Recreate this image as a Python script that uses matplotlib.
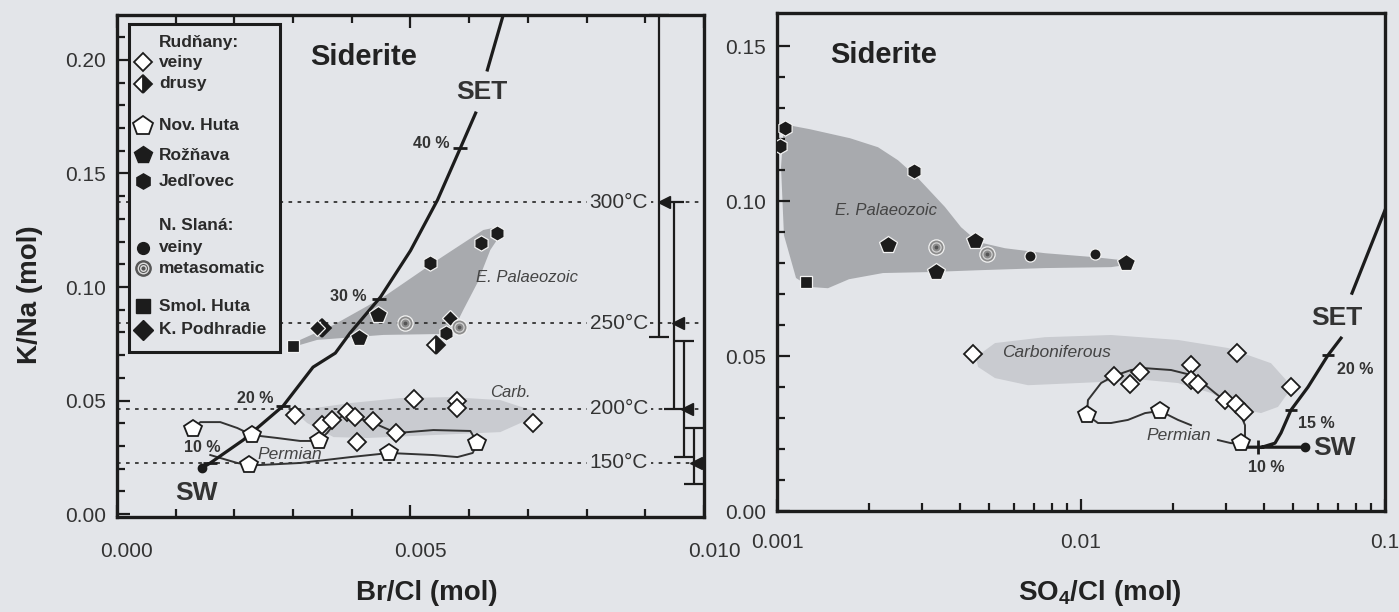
import numpy as np
import matplotlib
matplotlib.use("Agg")
import matplotlib.pyplot as plt
from matplotlib.patches import Rectangle
from matplotlib.transforms import ScaledTranslation
from matplotlib.ticker import LogLocator, NullFormatter

plt.rcParams['font.family'] = ['Liberation Sans', 'DejaVu Sans']
plt.rcParams['mathtext.fontset'] = 'custom'
plt.rcParams['mathtext.rm'] = 'Liberation Sans'
plt.rcParams['mathtext.bf'] = 'Liberation Sans:bold'

BG = '#e3e5e9'
INK = '#1c1c1c'
DARK_FILL = '#a8aaae'
LIGHT_FILL = '#c9cbd0'
nan = np.nan

# ---------------- left panel: Br/Cl vs K/Na ----------------
# Rudnany veiny (open diamonds)
brcl_rud_veiny = [0.00304, 0.00350, 0.00367, 0.00392, 0.00406, 0.00437, 0.00409, 0.00476,
                  0.00506, 0.00579, 0.00580, 0.00708]
kna_rud_veiny = [0.0436, 0.0392, 0.0414, 0.0449, 0.0427, 0.0410, 0.0317, 0.0357,
                 0.0505, 0.0500, 0.0469, 0.0403]
# Rudnany drusy (half filled diamonds)
brcl_rud_drusy = [0.00350, 0.00543]
kna_rud_drusy = [0.0819, 0.0744]
# Nova Huta (open pentagons)
brcl_novhuta = [0.00130, 0.00230, 0.00345, 0.00614, 0.00464, 0.00225]
kna_novhuta = [0.0374, 0.0348, 0.0322, 0.0313, 0.0269, 0.0216]
# Roznava (filled pentagons)
brcl_roznava = [0.00444, 0.00413]
kna_roznava = [0.0877, 0.0775]
# Jedlovec (hexagons)
brcl_jedlovec = [0.00648, 0.00621, 0.00534, 0.00560]
kna_jedlovec = [0.1238, 0.1194, 0.1106, 0.0797]
# N. Slana metasomatic
brcl_meta = [0.00490, 0.00582]
kna_meta = [0.0841, 0.0824]
# Smol. Huta
brcl_smol = [0.00300]
kna_smol = [0.0740]
# K. Podhradie
brcl_kpod = [0.00341, 0.00568]
kna_kpod = [0.0819, 0.0863]

# seawater evaporation trajectory
set_brcl = [0.00145, 0.00159, 0.00215, 0.00283, 0.00334, 0.00372, 0.00397, 0.00449,
            0.00500, 0.00546, 0.00585, 0.00611, nan, 0.00631, 0.00657]
set_kna = [0.0203, 0.0225, 0.0326, 0.0476, 0.0647, 0.0709, 0.0797, 0.0956,
           0.1160, 0.1383, 0.1612, 0.1766, nan, 0.1956, 0.2189]
set_tick_brcl = [0.00159, 0.00283, 0.00446, 0.00585]
set_tick_kna = [0.0225, 0.0476, 0.0947, 0.1612]
set_tick_text = ['10 %', '20 %', '30 %', '40 %']
set_text_brcl = [0.00145, 0.00235, 0.00394, 0.00535]
set_text_kna = [0.0291, 0.0511, 0.0956, 0.1630]

# Permian trend (left)
perm_brcl = [0.00130, 0.00142, 0.00176, 0.00205, 0.00230, 0.00273, 0.00312, 0.00343,
             0.00358, 0.00375, 0.00392, 0.00409, 0.00437, 0.00476, 0.00539, 0.00602,
             0.00614, 0.00606, 0.00580, 0.00539, 0.00464, 0.00398, 0.00312, 0.00244,
             0.00225, 0.00205, 0.00176, 0.00159]
perm_kna = [0.0374, 0.0405, 0.0405, 0.0379, 0.0348, 0.0335, 0.0322, 0.0322,
            0.0357, 0.0414, 0.0449, 0.0423, 0.0401, 0.0357, 0.0370, 0.0366,
            0.0313, 0.0269, 0.0251, 0.0260, 0.0269, 0.0251, 0.0225, 0.0216,
            0.0216, 0.0225, 0.0247, 0.0260]

# field outlines (left)
epal_brcl = [0.00300, 0.00369, 0.00454, 0.00546, 0.00624, 0.00648, 0.00653, 0.00636,
             0.00614, 0.00590, 0.00573, 0.00551, 0.00454, 0.00341, 0.00300]
epal_kna = [0.0753, 0.0833, 0.0956, 0.1119, 0.1251, 0.1264, 0.1229, 0.1163,
            0.1018, 0.0899, 0.0811, 0.0793, 0.0789, 0.0767, 0.0736]
carb_brcl = [0.00312, 0.00398, 0.00483, 0.00568, 0.00653, 0.00705, 0.00710, 0.00653,
             0.00539, 0.00426, 0.00369, 0.00324, 0.00309]
carb_kna = [0.0458, 0.0489, 0.0511, 0.0515, 0.0502, 0.0458, 0.0427, 0.0361,
            0.0348, 0.0335, 0.0339, 0.0401, 0.0436]

# homogenisation temperatures
temp_kna = [0.1374, 0.0841, 0.0463, 0.0225]
temp_text = ['300°C', '250°C', '200°C', '150°C']
range_brcl = [0.00923, 0.00949, 0.00966, 0.00983]
range_lo = [0.0780, 0.0463, 0.0251, 0.0132]
range_hi = [0.2198, 0.1374, 0.0762, 0.0379]
arrow_brcl = [0.00932, 0.00955, 0.00971, 0.00986]

# ---------------- right panel: SO4/Cl vs K/Na ----------------
so4_rud_veiny = [0.00441, 0.01284, 0.01449, 0.01564, 0.02301, 0.02301, 0.02426, 0.02976,
                 0.03235, 0.03437, 0.03260, 0.04907]
kna2_rud_veiny = [0.0506, 0.0436, 0.0410, 0.0448, 0.0471, 0.0423, 0.0410, 0.0358,
                  0.0345, 0.0319, 0.0510, 0.0400]
so4_novhuta = [0.01046, 0.01819, 0.03360]
kna2_novhuta = [0.0310, 0.0323, 0.0219]
so4_roznava = [0.002318, 0.003334, 0.004480, 0.01406]
kna2_roznava = [0.0858, 0.0771, 0.0871, 0.0800]
so4_jedlovec = [0.001063, 0.001023, 0.002823]
kna2_jedlovec = [0.1236, 0.1178, 0.1097]
so4_slana = [0.006796, 0.01112]
kna2_slana = [0.0823, 0.0829]
so4_meta = [0.003334, 0.004907]
kna2_meta = [0.0852, 0.0829]
so4_smol = [0.001245]
kna2_smol = [0.0739]

perm2_so4 = [0.02301, 0.02085, 0.01819, 0.01624, 0.01427, 0.01255, 0.01137, 0.01046,
             0.01054, 0.01164, 0.01284, 0.01460, 0.01624, 0.01978, 0.02301, 0.02520,
             0.02760, 0.03045, 0.03334, 0.03463, 0.03463, 0.03360, 0.03114, 0.02822]
perm2_kna = [0.0277, 0.0294, 0.0323, 0.0316, 0.0294, 0.0284, 0.0284, 0.0310,
             0.0358, 0.0413, 0.0436, 0.0455, 0.0461, 0.0455, 0.0439, 0.0413,
             0.0381, 0.0348, 0.0316, 0.0277, 0.0239, 0.0219, 0.0219, 0.0229]

epal2_so4 = [0.001054, 0.001284, 0.001739, 0.002149, 0.002500, 0.002910, 0.003569, 0.004030,
             0.004584, 0.005623, 0.007612, 0.01112, 0.01354, 0.01483, 0.01255, 0.007612,
             0.004584, 0.003139, 0.002233, 0.001725, 0.001471, 0.001284, 0.001155, 0.001054,
             0.001031]
epal2_kna = [0.1248, 0.1232, 0.1203, 0.1174, 0.1132, 0.1074, 0.0981, 0.0916,
             0.0868, 0.0848, 0.0832, 0.0819, 0.0810, 0.0797, 0.0787, 0.0784,
             0.0777, 0.0771, 0.0768, 0.0748, 0.0719, 0.0723, 0.0752, 0.0890,
             0.1110]
carb2_so4 = [0.004513, 0.005213, 0.007612, 0.01255, 0.02085, 0.03045, 0.04217, 0.04724,
             0.04796, 0.04446, 0.03909, 0.03463, 0.02677, 0.02085, 0.01624, 0.009775,
             0.006694, 0.005213, 0.004584]
carb2_kna = [0.0497, 0.0542, 0.0561, 0.0568, 0.0552, 0.0526, 0.0477, 0.0423,
             0.0381, 0.0336, 0.0316, 0.0326, 0.0381, 0.0413, 0.0423, 0.0413,
             0.0406, 0.0429, 0.0465]

set2_so4 = [0.05456, 0.03437, nan, 0.03939, 0.04346, 0.04548, 0.04907, 0.05580,
            0.06494, 0.07166, nan, 0.07787, 0.1000]
set2_kna = [0.0206, 0.0206, nan, 0.0206, 0.0219, 0.0252, 0.0326, 0.0400,
            0.0503, 0.0558, nan, 0.0703, 0.0971]
set2_tick_so4 = [0.0382, 0.0491, 0.0649]
set2_tick_kna = [0.0206, 0.0326, 0.0503]
set2_text_so4 = [0.0407, 0.0596, 0.0796]
set2_text_kna = [0.0139, 0.0284, 0.0458]

# ---------------- figure ----------------
fig = plt.figure(figsize=(13.99, 6.12), dpi=100, facecolor=BG)
axL = fig.add_axes([0.0836, 0.1552, 0.4196, 0.8203])
axR = fig.add_axes([0.5554, 0.1650, 0.4346, 0.8137])
axR.set_xscale('log')


def style_axes(ax, top):
    ax.set_facecolor(BG)
    for s in ax.spines.values():
        s.set_linewidth(2.4)
        s.set_color(INK)
    ax.tick_params(which='both', direction='in', color=INK, width=1.6, labelsize=15,
                   labelcolor='#333333', top=top, right=False)
    ax.tick_params(which='major', length=9)
    ax.tick_params(which='minor', length=6)
    ax.tick_params(axis='y', pad=8)


open_mk = dict(linestyle='none', mfc='white', mec=INK, mew=1.3, zorder=5)
solid_mk = dict(linestyle='none', mfc=INK, mec='#f2f2f2', mew=0.9, zorder=5)


def draw_meta(ax, x, y, size=11):
    ax.plot(x, y, 'o', ms=size, mfc='#8c8c8c', mec='#f2f2f2', mew=0.9, zorder=5)
    ax.plot(x, y, 'o', ms=size * 0.6, mfc='none', mec='#d4d4d4', mew=0.9, zorder=6)
    ax.plot(x, y, 'o', ms=size * 0.25, mfc='#555555', mec='none', zorder=6)


# ---- left ----
ax = axL
ax.set_xlim(0, 0.010)
ax.set_ylim(-0.0013, 0.2198)
ax.set_xticks([0.0, 0.005, 0.010])
ax.set_xticks(np.arange(0.001, 0.010, 0.001), minor=True)
ax.set_xticklabels(['0.000', '0.005', '0.010'])
ax.set_yticks([0.0, 0.05, 0.10, 0.15, 0.20])
ax.set_yticks(np.arange(0.01, 0.22, 0.01), minor=True)
ax.set_yticklabels(['0.00', '0.05', '0.10', '0.15', '0.20'])
style_axes(ax, True)
ax.tick_params(axis='x', pad=18)
for lab in ax.get_xticklabels():
    lab.set_transform(lab.get_transform() + ScaledTranslation(0.10, 0, fig.dpi_scale_trans))

ax.fill(epal_brcl, epal_kna, color=DARK_FILL, lw=0, zorder=1)
ax.fill(carb_brcl, carb_kna, color=LIGHT_FILL, lw=0, zorder=1)

for yk, t in zip(temp_kna, temp_text):
    ax.plot([0, 0.010], [yk, yk], color='#333333', lw=1.3, ls=(0, (2, 3)), zorder=2)
    ax.text(0.00855, yk, t, ha='center', va='center', fontsize=15, color='#333333', zorder=3,
            bbox=dict(boxstyle='square,pad=0.12', fc=BG, ec='none'))
ax.errorbar(range_brcl, [(a + b) / 2 for a, b in zip(range_lo, range_hi)],
            yerr=[(b - a) / 2 for a, b in zip(range_lo, range_hi)], fmt='none',
            ecolor=INK, elinewidth=1.6, capsize=7, capthick=1.6, zorder=4, clip_on=False)
ax.plot(arrow_brcl, temp_kna, '<', ms=9, color=INK, linestyle='none', zorder=4)

ax.plot(perm_brcl, perm_kna, color='#333333', lw=1.4, zorder=3)
ax.plot(set_brcl, set_kna, color=INK, lw=2.3, zorder=3, clip_on=False)
ax.plot(set_tick_brcl, set_tick_kna, '_', ms=10, mew=2, color=INK, zorder=3)
ax.plot(set_brcl[:1], set_kna[:1], 'o', ms=6, color=INK, zorder=4)
for x, y, t in zip(set_text_brcl, set_text_kna, set_tick_text):
    ax.text(x, y, t, ha='center', va='center', fontsize=11.5, fontweight='bold', color='#333333', zorder=6)

ax.plot(brcl_rud_veiny, kna_rud_veiny, 'D', ms=9, **open_mk)
ax.plot(brcl_novhuta, kna_novhuta, 'p', ms=13, **open_mk)
ax.plot(brcl_rud_drusy, kna_rud_drusy, 'D', ms=9, fillstyle='right', mfc=INK,
        markerfacecoloralt='white', mec=INK, mew=1.3, linestyle='none', zorder=5)
ax.plot(brcl_kpod, kna_kpod, 'D', ms=8, **solid_mk)
ax.plot(brcl_roznava, kna_roznava, 'p', ms=13, **solid_mk)
ax.plot(brcl_jedlovec, kna_jedlovec, 'h', ms=11, **solid_mk)
ax.plot(brcl_smol, kna_smol, 's', ms=9, **solid_mk)
draw_meta(ax, brcl_meta, kna_meta)

ax.text(0.00329, 0.2013, 'Siderite', fontsize=21, fontweight='bold', color='#222222',
        ha='left', va='center')
ax.text(0.00621, 0.1859, 'SET', fontsize=19, fontweight='bold', color='#333333', ha='center', va='center')
ax.text(0.00136, 0.0093, 'SW', fontsize=19, fontweight='bold', color='#333333', ha='center', va='center')
ax.text(0.00698, 0.1044, 'E. Palaeozoic', fontsize=12, style='italic', color='#444444', ha='center', va='center')
ax.text(0.00670, 0.0537, 'Carb.', fontsize=12, style='italic', color='#444444', ha='center', va='center')
ax.text(0.00295, 0.0264, 'Permian', fontsize=12.5, style='italic', color='#444444', ha='center', va='center')

# legend box
ax.add_patch(Rectangle((0.0204, 0.3287), 0.2573, 0.6533, transform=ax.transAxes,
                       fc=BG, ec=INK, lw=2.2, zorder=7))
legend_rows = [
    (0.946, 'Rudňany:', None),
    (0.906, 'veiny', dict(marker='D', ms=9, mfc='white', mec=INK, mew=1.3)),
    (0.863, 'drusy', dict(marker='D', ms=9, fillstyle='right', mfc=INK, markerfacecoloralt='white', mec=INK, mew=1.3)),
    (0.779, 'Nov. Huta', dict(marker='p', ms=15, mfc='white', mec=INK, mew=1.3)),
    (0.721, 'Rožňava', dict(marker='p', ms=13, mfc=INK, mec=INK)),
    (0.669, 'Jedľovec', dict(marker='h', ms=11, mfc=INK, mec=INK)),
    (0.580, 'N. Slaná:', None),
    (0.536, 'veiny', dict(marker='o', ms=8.5, mfc=INK, mec=INK)),
    (0.496, 'metasomatic', 'meta'),
    (0.420, 'Smol. Huta', dict(marker='s', ms=10, mfc=INK, mec=INK)),
    (0.373, 'K. Podhradie', dict(marker='D', ms=10, mfc=INK, mec=INK)),
]
for yy, label, mk in legend_rows:
    ax.text(0.0716, yy, label, transform=ax.transAxes, fontsize=12.5, fontweight='bold',
            color='#2a2a2a', ha='left', va='center', zorder=8)
    if mk == 'meta':
        for s, fc, ec in [(11, '#555555', '#555555'), (7.5, 'none', '#dddddd'), (4, 'none', '#dddddd')]:
            ax.plot([0.044], [yy], 'o', ms=s, mfc=fc, mec=ec, mew=1.0, transform=ax.transAxes, zorder=8)
    elif mk is not None:
        ax.plot([0.044], [yy], linestyle='none', transform=ax.transAxes, zorder=8, **mk)

fig.text(427 / 1399, 1 - 593 / 612, 'Br/Cl (mol)', fontsize=20, fontweight='bold',
         color='#222222', ha='center', va='center')
fig.text(30 / 1399, 1 - 295 / 612, 'K/Na (mol)', fontsize=20, fontweight='bold',
         color='#222222', ha='center', va='center', rotation=90)

# ---- right ----
ax = axR
ax.set_xlim(0.001, 0.1)
ax.set_ylim(0, 0.1607)
ax.set_xticks([0.001, 0.01, 0.1])
ax.set_xticklabels(['0.001', '0.01', '0.1'])
ax.xaxis.set_minor_locator(LogLocator(base=10, subs=np.arange(2, 10), numticks=20))
ax.xaxis.set_minor_formatter(NullFormatter())
ax.set_yticks([0.0, 0.05, 0.10, 0.15])
ax.set_yticks(np.arange(0.01, 0.16, 0.01), minor=True)
ax.set_yticklabels(['0.00', '0.05', '0.10', '0.15'])
style_axes(ax, False)
ax.tick_params(axis='x', pad=16)

ax.fill(epal2_so4, epal2_kna, color=DARK_FILL, lw=0, zorder=1)
ax.fill(carb2_so4, carb2_kna, color=LIGHT_FILL, lw=0, zorder=1)
ax.plot(perm2_so4, perm2_kna, color='#333333', lw=1.4, zorder=3)
ax.plot(set2_so4, set2_kna, color=INK, lw=2.3, zorder=3, clip_on=False)
ax.plot(set2_tick_so4[:1], set2_tick_kna[:1], '|', ms=10, mew=2, color=INK, zorder=3)
ax.plot(set2_tick_so4[1:], set2_tick_kna[1:], '_', ms=8, mew=2, color=INK, zorder=3)
ax.plot(set2_so4[:1], set2_kna[:1], 'o', ms=6, color=INK, zorder=4)
for x, y, t in zip(set2_text_so4, set2_text_kna, ['10 %', '15 %', '20 %']):
    ax.text(x, y, t, ha='center', va='center', fontsize=11.5, fontweight='bold', color='#333333', zorder=6)

ax.plot(so4_rud_veiny, kna2_rud_veiny, 'D', ms=9, **open_mk)
ax.plot(so4_novhuta, kna2_novhuta, 'p', ms=13, **open_mk)
ax.plot(so4_roznava, kna2_roznava, 'p', ms=13, **solid_mk)
ax.plot(so4_jedlovec, kna2_jedlovec, 'h', ms=11, **solid_mk)
ax.plot(so4_slana, kna2_slana, 'o', ms=8, **solid_mk)
ax.plot(so4_smol, kna2_smol, 's', ms=9, **solid_mk)
draw_meta(ax, so4_meta, kna2_meta)

ax.text(0.001494, 0.1471, 'Siderite', fontsize=21, fontweight='bold', color='#222222',
        ha='left', va='center')
ax.text(0.06962, 0.0623, 'SET', fontsize=19, fontweight='bold', color='#333333', ha='center', va='center')
ax.text(0.06818, 0.0203, 'SW', fontsize=19, fontweight='bold', color='#333333', ha='center', va='center')
ax.text(0.002284, 0.0971, 'E. Palaeozoic', fontsize=12, style='italic', color='#444444', ha='center', va='center')
ax.text(0.008305, 0.0510, 'Carboniferous', fontsize=12.5, style='italic', color='#444444', ha='center', va='center')
ax.text(0.02093, 0.0245, 'Permian', fontsize=12.5, style='italic', color='#444444', ha='center', va='center')

fig.text(1100 / 1399, 1 - 593 / 612, r'SO$_\mathbf{4}$/Cl (mol)', fontsize=20, fontweight='bold',
         color='#222222', ha='center', va='center')

fig.savefig('out.png', dpi=100, facecolor=BG)
